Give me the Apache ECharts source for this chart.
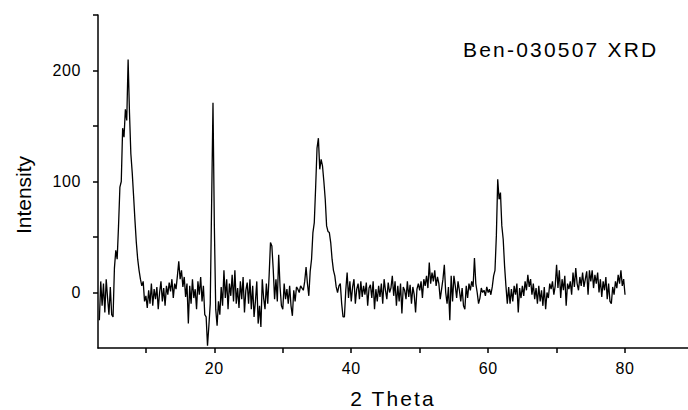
<!DOCTYPE html>
<html>
<head>
<meta charset="utf-8">
<script src="https://cdn.jsdelivr.net/npm/echarts@6/dist/echarts.min.js"></script>
<style>
html,body{margin:0;padding:0;background:#fff;}
#chart{width:688px;height:410px;}
</style>
</head>
<body>
<div id="chart"></div>
<script>
// XRD scan: 2-theta start and scan step (degrees)
const thetaStart = 3.2;
const thetaStep = 0.2;
// Intensity readings, one row per degree (5 readings each)
const intensity = [
  -25, 10, -12, 8,
  -18, 12, -5, -20, 5,
  -20, -22, 22, 38, 30,
  60, 95, 100, 148, 140,
  165, 155, 210, 162, 125,
  108, 87, 65, 45, 30,
  20, 12, 6, 10, -8,
  -3, -14, 2, -10, 8,
  -12, 3, -6, 5, -15,
  0, 10, -8, 4, -12,
  6, -2, 9, 1, 12,
  -5, 8, 3, 15, 28,
  12, 20, 5, 14, -4,
  8, -28, 6, -10, 12,
  -5, 3, -15, 10, -2,
  14, -8, 6, -20, -22,
  -48, -30, -10, 80, 171,
  60, -15, -30, -8, -20,
  5, -12, 20, -5, 12,
  -15, 8, -3, 16, -8,
  20, -10, 4, -14, 10,
  -6, 14, -18, 2, 9,
  -10, 12, -15, 6, -22,
  -8, 10, -28, -12, -31,
  12, -5, -15, 8, -10,
  15, 45, 42, 21, -6,
  12, -8, 34, 5, -12,
  -15, 8, -6, 3, -10,
  6, -12, -21, 2, -8,
  5, 3, 0, 6, 4,
  2, 10, 23, 8, -3,
  19, 30, 54, 63, 95,
  130, 139, 111, 120, 114,
  100, 84, 60, 55, 54,
  45, 30, 20, 15, 5,
  0, 6, 8, -10, -22,
  -22, 2, 18, -5, 10,
  -8, 5, 12, -10, 3,
  8, -6, 10, -4, 6,
  -2, 9, -12, 4, 7,
  -5, 10, -15, 3, -8,
  6, -4, 8, -10, 12,
  2, -6, 9, 0, 4,
  15, -3, 10, -12, 6,
  -8, 8, -19, 5, 2,
  -6, 10, -4, 7, -10,
  5, -2, -18, 3, 8,
  2, 10, -5, 12, 6,
  15, 4, 27, 8, 18,
  10, 20, 6, 14, 8,
  -6, 3, 12, 25, 0,
  -10, 5, -25, 15, -8,
  15, 6, -5, 10, 2,
  -8, 4, -12, -15, 6,
  -5, 8, 2, 10, 5,
  31, 8, 0, -10, -5,
  4, 0, 2, -3, 5,
  0, 3, -2, 5, 15,
  20, 51, 102, 84, 90,
  60, 48, 24, 6, -10,
  5, -10, 3, -8, 6,
  -2, 8, -18, 4, -5,
  6, -3, 10, 2, 16,
  5, 12, -2, 8, -6,
  4, -10, 6, -8, 2,
  -12, 5, -15, 0, -5,
  8, 3, 10, -2, 6,
  25, 4, 20, -5, 12,
  2, 15, -12, 8, 3,
  10, -2, 18, 5, 22,
  8, 2, 14, 6, 18,
  5, 12, 19, -2, 20,
  10, 20, 4, 16, 8,
  18, 0, 12, -4, 10,
  2, 14, -6, 8, -8,
  -10, 5, -2, 10, 4,
  16, 8, 20, 6, 12,
  -2
];
const xTicks = [10, 20, 30, 40, 50, 60, 70, 80];
const xTickLabels = [20, 40, 60, 80];
const yTicks = [0, 50, 100, 150, 200, 250];
const yTickLabels = [0, 100, 200];
const titleText = 'Ben-030507 XRD';
const xName = '2 Theta';
const yName = 'Intensity';

const seriesData = intensity.map((v, i) => [+(thetaStart + i * thetaStep).toFixed(2), v]);

const chart = echarts.init(document.getElementById('chart'), null, {renderer: 'svg'});
const font = '"Liberation Sans", Arial, sans-serif';

function applySpacing() {
  document.querySelectorAll('#chart svg text').forEach(t => {
    const s = t.textContent;
    if (s === titleText) t.style.letterSpacing = '2.2px';
    else if (s === xName) t.style.letterSpacing = '2.1px';
    else if (/^\d+$/.test(s)) t.style.letterSpacing = '0.6px';
  });
}
chart.on('finished', applySpacing);
chart.on('rendered', applySpacing);

chart.setOption({
  animation: false,
  backgroundColor: '#ffffff',
  grid: {left: 98, right: 0, top: 15, bottom: 62, containLabel: false},
  xAxis: {
    type: 'value', min: 3, max: 89.2,
    axisLine: {show: true, onZero: false, lineStyle: {color: '#000', width: 1.5}},
    axisTick: {show: true, inside: false, length: 5, customValues: xTicks, lineStyle: {color: '#000', width: 1.5}},
    splitLine: {show: false},
    axisLabel: {
      color: '#000', fontFamily: font, fontSize: 16, margin: 12,
      customValues: xTickLabels
    }
  },
  yAxis: {
    type: 'value', min: -50, max: 250,
    axisLine: {show: true, onZero: false, lineStyle: {color: '#000', width: 1.5}},
    axisTick: {show: true, inside: false, length: 5, customValues: yTicks, lineStyle: {color: '#000', width: 1.5}},
    splitLine: {show: false},
    axisLabel: {
      color: '#000', fontFamily: font, fontSize: 16, margin: 17,
      customValues: yTickLabels
    }
  },
  series: [{
    type: 'line', data: seriesData, showSymbol: false, symbol: 'none',
    lineStyle: {color: '#000', width: 1.3}, silent: true
  }],
  graphic: [
    {type: 'text', x: 463, y: 49, style: {text: titleText, font: '21px ' + font, fill: '#000', textVerticalAlign: 'middle'}},
    {type: 'text', x: 393, y: 398, style: {text: xName, font: '21px ' + font, fill: '#000', textAlign: 'center', textVerticalAlign: 'middle'}},
    {type: 'text', x: 23, y: 195, rotation: Math.PI / 2, style: {text: yName, font: '21px ' + font, fill: '#000', textAlign: 'center', textVerticalAlign: 'middle'}}
  ]
});
applySpacing();
setTimeout(applySpacing, 0);
setTimeout(applySpacing, 100);
</script>
</body>
</html>
